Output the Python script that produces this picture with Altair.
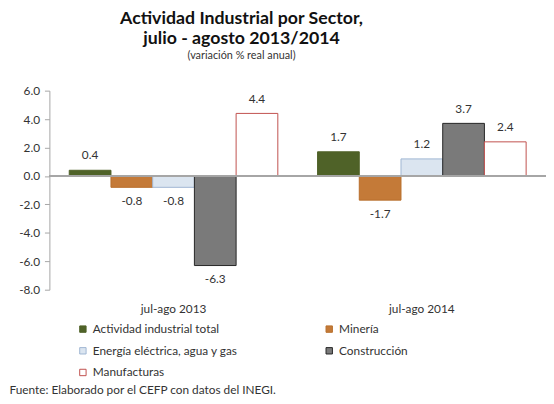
import altair as alt
import pandas as pd

periods = ["jul-ago 2013", "jul-ago 2014"]
sectors = [
    "Actividad industrial total",
    "Minería",
    "Energía eléctrica, agua y  gas",
    "Construcción",
    "Manufacturas",
]
values_2013 = [0.4, -0.8, -0.8, -6.3, 4.4]
values_2014 = [1.7, -1.7, 1.2, 3.7, 2.4]
fills = ["#4f6228", "#c47a38", "#dbe5f0", "#7a7a7a", "#ffffff"]
strokes = ["#4f6228", "#b86f2c", "#9fb6d2", "#262626", "#c0504d"]
y_ticks = [6, 4, 2, 0, -2, -4, -6, -8]
# legend is laid out column by column: first column, then second
legend_order = [0, 2, 4, 1, 3]

leg_domain = [sectors[i] for i in legend_order]
leg_fills = [fills[i] for i in legend_order]
leg_strokes = [strokes[i] for i in legend_order]

rows = []
for p, vals in zip(periods, [values_2013, values_2014]):
    for s, v in zip(sectors, vals):
        rows.append({"periodo": p, "sector": s, "valor": v})
df = pd.DataFrame(rows)

FONT = "Lato"
TXT = "#333333"

legend = alt.Legend(
    title=None,
    orient="none",
    legendX=28,
    legendY=236,
    columns=2,
    columnPadding=83,
    rowPadding=10,
    symbolType="square",
    symbolSize=42,
    symbolStrokeWidth=1,
    labelFontSize=12,
    labelFont=FONT,
    labelColor=TXT,
    labelOffset=4,
)

y_axis = alt.Axis(
    values=y_ticks,
    labelExpr="replace(format(datum.value, '.1f'), '\u2212', '-')",
    labelOverlap=False,
    grid=False,
    title=None,
    domainColor="#a6a6a6",
    tickColor="#a6a6a6",
    tickSize=5,
    labelPadding=5,
    labelFont=FONT,
    labelFontSize=12,
    labelColor=TXT,
)
y_scale = alt.Scale(domain=[-8, 6], nice=False, zero=False)

base = alt.Chart(df).transform_calculate(
    etiqueta="replace(format(datum.valor, '.1f'), '\u2212', '-')"
).encode(
    x=alt.X(
        "periodo:N",
        sort=periods,
        scale=alt.Scale(paddingInner=0.16, paddingOuter=0.08),
        axis=alt.Axis(
            title="Fuente: Elaborado por el CEFP con datos del INEGI.",
            titleFont=FONT,
            titleFontSize=12,
            titleFontWeight="normal",
            titleColor=TXT,
            titleX=-41,
            titleY=105,
            titleAlign="left",
            titleAnchor="start",
            titleBaseline="alphabetic",
            domain=False,
            ticks=False,
            labelAngle=0,
            labelPadding=14,
            labelFont=FONT,
            labelFontSize=12,
            labelColor=TXT,
        ),
    ),
    xOffset=alt.XOffset(
        "sector:N", sort=sectors, scale=alt.Scale(paddingInner=0, paddingOuter=0)
    ),
    y=alt.Y("valor:Q", scale=y_scale, axis=y_axis),
)

bars = base.mark_bar(strokeWidth=1).encode(
    fill=alt.Fill("sector:N", scale=alt.Scale(domain=leg_domain, range=leg_fills), legend=legend),
    stroke=alt.Stroke("sector:N", scale=alt.Scale(domain=leg_domain, range=leg_strokes), legend=legend),
)

zero = alt.Chart(df).mark_rule(color="#a6a6a6", strokeWidth=1).encode(
    y=alt.YDatum(0, scale=y_scale, axis=y_axis)
)

pos = base.transform_filter("datum.valor >= 0").mark_text(
    baseline="bottom", dy=-8, fontSize=12, font=FONT, color=TXT
).encode(text="etiqueta:N")

neg = base.transform_filter("datum.valor < 0").mark_text(
    baseline="top", dy=9, fontSize=12, font=FONT, color=TXT
).encode(text="etiqueta:N")

chart = alt.layer(bars, zero, pos, neg).properties(
    width=504,
    height=202,
    autosize=alt.AutoSizeParams(type="none"),
    padding={"left": 42, "top": 81, "right": 0, "bottom": 106},
    title=alt.TitleParams(
        text=["Actividad Industrial por Sector,", "julio - agosto 2013/2014"],
        subtitle="(variación % real anual)",
        font=FONT,
        fontSize=18,
        fontWeight="bold",
        color="#111111",
        lineHeight=21,
        subtitleFont=FONT,
        subtitleFontSize=11,
        subtitleColor=TXT,
        subtitlePadding=2,
        anchor="middle",
        dx=-57,
        offset=24,
    ),
).configure_view(stroke=None)

chart.save("out.html", embed_options={"renderer": "svg", "actions": False})
